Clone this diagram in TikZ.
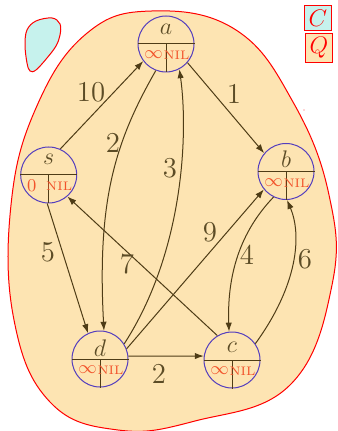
\documentclass[tikz,border=0pt]{standalone}
\usetikzlibrary{arrows.meta,calc}
\definecolor{blobfill}{RGB}{253,228,178}
\definecolor{cyanfill}{RGB}{198,242,237}
\definecolor{edgecol}{RGB}{78,60,22}
\definecolor{labcol}{RGB}{92,76,38}
\definecolor{valcol}{RGB}{242,84,44}
\definecolor{vcol}{RGB}{84,62,190}
\tikzset{
  vtx/.style={circle, draw=vcol, line width=0.5pt, minimum size=28pt, inner sep=0pt},
  sepline/.style={draw=edgecol, line width=0.5pt},
  arr/.style={draw=edgecol, line width=0.5pt, -{Latex[length=4.5pt,width=3.2pt]}},
  elab/.style={text=labcol, font=\Large, inner sep=0pt},
  vname/.style={text=labcol, font=\large, inner sep=0pt},
  vval/.style={text=valcol, font=\small, inner sep=0pt, anchor=west},
  vnil/.style={text=valcol, font=\fontsize{6.2}{7}\selectfont, inner sep=0pt},
  legendbox/.style={draw=red, text=red, font=\large, inner sep=2.2pt, line width=0.5pt},
}
% #1 name, #2 position, #3 letter, #4 letter y-offset, #5 value
\newcommand\mkvertex[5]{%
  \node[vtx] (#1) at (#2) {};
  \draw[sepline] (#1.west) -- (#1.east);
  \draw[sepline] (#1.center) -- (#1.south);
  \node[vname] (#1name) at ([shift={(0,#4)}]#1.center) {$#3$};
  \node[vval] (#1val) at ([shift={(-22,11)}]#1.center) {#5};
  \node[vnil] (#1nil) at ([shift={(10.5,11.3)}]#1.center) {NIL};
}
\begin{document}
\begin{tikzpicture}[x=0.5pt,y=-0.5pt]
\useasboundingbox (0,0) rectangle (337,431);
% blobs
\draw[red, line width=0.5pt, fill=blobfill] plot[smooth cycle, tension=0.7] coordinates {
 (152,11) (236,30) (293,102) (329,195) (332,285) (290,385) (195,421) (118,430)
 (50,402) (14,320) (11,205) (36,108) (86,34)};
\draw[red, line width=0.5pt, fill=cyanfill] plot[smooth cycle, tension=0.6] coordinates {
 (52,18) (60,24) (60,35) (56,46) (47,58) (36,70) (30,71) (27,63) (25,45) (27,30) (36,21)};
\fill[red!70] (304,110) circle (0.6);
% legend
\node[legendbox, fill=cyanfill] (legC) at (318,18) {$C$};
\node[legendbox, fill=blobfill] (legQ) at (319,48) {$Q$};
% vertices
\mkvertex{a}{166,44}{a}{-15}{$\infty$}
\mkvertex{s}{48.7,175}{s}{-15.5}{0}
\mkvertex{b}{286,171.5}{b}{-12}{$\infty$}
\mkvertex{d}{100,359}{d}{-11}{$\infty$}
\mkvertex{c}{232,360}{c}{-12.5}{$\infty$}
% edges
\draw[arr] (s.66) -- (a.217);
\draw[arr] (a.-41) -- (b.140);
\draw[arr] (a.-111) .. controls (115,142) and (97,200) .. (d.82);
\draw[arr] (d.32) .. controls (185,250) and (188,130) .. (a.-62);
\draw[arr] (s.-93) -- (d.115);
\draw[arr] (c.121) -- (s.-49);
\draw[arr] (d.21) -- (b.219);
\draw[arr] (b.-116) .. controls (240,232) and (227,275) .. (c.96);
\draw[arr] (c.35) .. controls (298,285) and (302,235) .. (b.-88);
\draw[arr] (d.6) -- (c.172);
% edge labels
\node[elab] (l10) at (91,92) {10};
\node[elab] (l1) at (234,94) {1};
\node[elab] (l2a) at (113,143) {2};
\node[elab] (l3) at (170,168) {3};
\node[elab] (l5) at (48,252) {5};
\node[elab] (l7) at (127,264) {7};
\node[elab] (l9) at (210,232) {9};
\node[elab] (l4) at (247,255) {4};
\node[elab] (l6) at (305,259) {6};
\node[elab] (l2b) at (159,374) {2};
\end{tikzpicture}
\end{document}
